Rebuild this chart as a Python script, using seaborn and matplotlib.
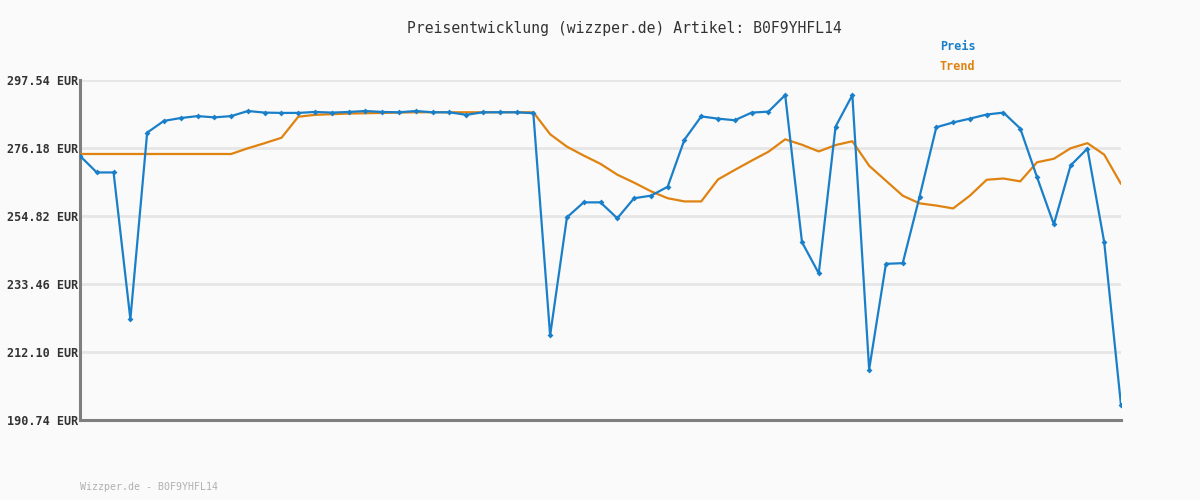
import numpy as np
import pandas as pd
import matplotlib
matplotlib.use("Agg")
import matplotlib.pyplot as plt
import seaborn as sns

title = "Preisentwicklung (wizzper.de) Artikel: B0F9YHFL14"
footer = "Wizzper.de - B0F9YHFL14"
series_names = ["Preis", "Trend"]
ytick_values = [190.74, 212.10, 233.46, 254.82, 276.18, 297.54]
ytick_labels = ["190.74 EUR", "212.10 EUR", "233.46 EUR", "254.82 EUR", "276.18 EUR", "297.54 EUR"]

preis = [273.7, 268.5, 268.5, 222.4, 281.0, 284.7, 285.6, 286.2, 285.8, 286.2,
         287.8, 287.3, 287.2, 287.2, 287.5, 287.3, 287.5, 287.8, 287.5, 287.4,
         287.8, 287.4, 287.4, 286.6, 287.4, 287.4, 287.4, 287.1, 217.3, 254.4,
         259.1, 259.1, 254.1, 260.4, 261.2, 264.0, 278.8, 286.1, 285.4, 284.9,
         287.3, 287.6, 292.8, 246.6, 236.8, 282.9, 292.8, 206.6, 239.8, 240.0,
         260.8, 282.7, 284.2, 285.4, 286.7, 287.3, 282.3, 267.0, 252.2, 270.7,
         276.0, 246.6, 195.4]

trend = [274.3, 274.3, 274.3, 274.3, 274.3, 274.3, 274.3, 274.3, 274.3, 274.3,
         276.1, 277.7, 279.4, 286.0, 286.6, 286.8, 287.0, 287.1, 287.2, 287.3,
         287.4, 287.4, 287.4, 287.4, 287.4, 287.4, 287.4, 287.4, 280.5, 276.6,
         273.8, 271.2, 267.8, 265.3, 262.6, 260.4, 259.4, 259.4, 266.3, 269.3,
         272.2, 275.0, 278.9, 277.2, 275.1, 277.1, 278.3, 270.6, 265.9, 261.2,
         258.8, 258.1, 257.2, 261.2, 266.2, 266.6, 265.7, 271.7, 272.8, 276.1,
         277.7, 274.1, 264.9]

n = len(preis)
df = pd.DataFrame({
    "idx": list(range(n)) * 2,
    "value": preis + trend,
    "series": [series_names[0]] * n + [series_names[1]] * n,
})

sns.set_theme(style="white")
plt.rcParams["font.family"] = ["DejaVu Sans Mono"]

bg = "#fafafa"
blue = "#1a7fc9"
orange = "#e0820f"

fig = plt.figure(figsize=(12, 5), dpi=100, facecolor=bg)
ax = fig.add_axes([80 / 1200, 1 - 420 / 500, (1121 - 80) / 1200, 340 / 500])
ax.set_facecolor(bg)

sns.lineplot(data=df[df.series == "Trend"], x="idx", y="value", color=orange,
             linewidth=1.6, ax=ax, legend=False, zorder=3)
sns.lineplot(data=df[df.series == "Preis"], x="idx", y="value", color=blue,
             linewidth=1.6, marker="D", markersize=3, markeredgewidth=0,
             ax=ax, legend=False, zorder=4)

ax.set_xlim(0, n - 1)
ax.set_ylim(ytick_values[0], ytick_values[-1])
ax.set_yticks(ytick_values)
ax.set_yticklabels(ytick_labels, fontsize=8.5, fontweight="bold", color="#333333")
ax.set_xticks([])
ax.set_xlabel("")
ax.set_ylabel("")
ax.tick_params(axis="y", length=0, pad=1)
for v in ytick_values[1:]:
    ax.axhline(v, color="#e6e6e6", linewidth=2.0, zorder=1)

for s in ["top", "right"]:
    ax.spines[s].set_visible(False)
for s in ["left", "bottom"]:
    ax.spines[s].set_color("#7f7f7f")
    ax.spines[s].set_linewidth(2.2)

fig.text(624 / 1200, 1 - 28 / 500, title, ha="center", va="center",
         fontsize=10.6, color="#333333")
fig.text(940 / 1200, 1 - 47 / 500, series_names[0], ha="left", va="center",
         fontsize=8.5, fontweight="bold", color=blue)
fig.text(940 / 1200, 1 - 67 / 500, series_names[1], ha="left", va="center",
         fontsize=8.5, fontweight="bold", color=orange)
fig.text(80 / 1200, 1 - 487 / 500, footer, ha="left", va="center",
         fontsize=7.2, color="#b0b0b0")

fig.savefig("out.png", dpi=100, facecolor=bg)
